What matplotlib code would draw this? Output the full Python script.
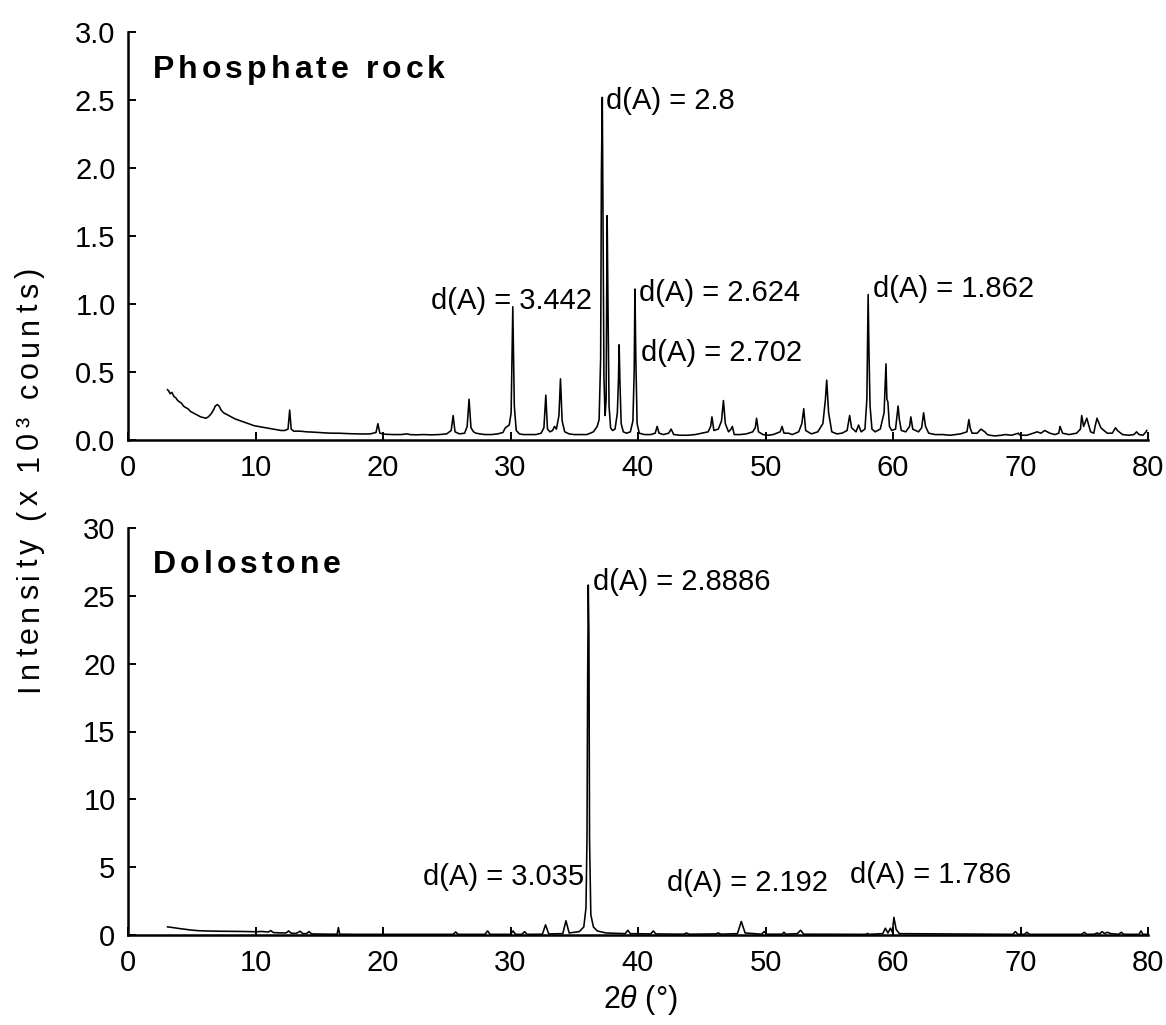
import matplotlib
matplotlib.use("Agg")
import matplotlib.pyplot as plt
from matplotlib.transforms import offset_copy

plt.rcParams['font.family'] = ['Liberation Sans', 'DejaVu Sans']
plt.rcParams['mathtext.fontset'] = 'custom'
plt.rcParams['mathtext.rm'] = 'Liberation Sans'
plt.rcParams['mathtext.it'] = 'Liberation Sans:italic'

# ---- Phosphate rock diffractogram (2theta in degrees, intensity in 10^3 counts)
phos_2theta = [
    3.1, 3.2, 3.3, 3.45, 3.6, 3.75, 3.9, 4.05, 4.2, 4.35, 4.5, 4.7, 4.9, 5.1, 5.3,
    5.5, 5.7, 5.9, 6.1, 6.3, 6.5, 6.7, 6.85, 7.0, 7.15, 7.3, 7.5, 7.7, 7.9, 8.1,
    8.4, 8.7, 9.0, 9.3, 9.6, 9.9, 10.2, 10.5, 10.8, 11.1, 11.4, 11.7, 12.0, 12.3,
    12.55, 12.68, 12.8, 13.0, 13.5, 14.0, 14.5, 15.0, 15.5, 16.0, 16.5, 17.0, 17.5,
    18.0, 18.5, 19.0, 19.45, 19.6, 19.75, 20.2, 20.8, 21.4, 21.9, 22.1, 22.6, 23.2,
    23.8, 24.4, 25.0, 25.35, 25.5, 25.65, 26.0, 26.4, 26.6, 26.75, 26.9, 27.1, 27.3,
    27.6, 28.0, 28.5, 29.0, 29.4, 29.6, 29.9, 30.05, 30.18, 30.3, 30.45, 30.7, 31.0,
    31.5, 32.0, 32.4, 32.62, 32.77, 32.9, 33.1, 33.3, 33.45, 33.6, 33.8, 33.92, 34.05,
    34.25, 34.6, 35.0, 35.5, 36.0, 36.5, 36.8, 36.95, 37.07, 37.13, 37.2, 37.26,
    37.33, 37.42, 37.5, 37.58, 37.65, 37.73, 37.85, 38.0, 38.2, 38.38, 38.47, 38.52,
    38.58, 38.68, 38.85, 39.1, 39.4, 39.6, 39.7, 39.76, 39.83, 39.93, 40.1, 40.5,
    41.0, 41.35, 41.5, 41.65, 42.0, 42.4, 42.6, 42.8, 43.3, 43.9, 44.5, 45.0, 45.5,
    45.7, 45.8, 45.95, 46.3, 46.55, 46.7, 46.85, 47.1, 47.3, 47.4, 47.55, 48.0, 48.5,
    49.0, 49.2, 49.3, 49.45, 49.8, 50.2, 50.6, 51.15, 51.3, 51.45, 51.8, 52.1, 52.6,
    52.85, 53.0, 53.15, 53.6, 54.1, 54.5, 54.7, 54.8, 54.95, 55.2, 55.6, 56.0, 56.4,
    56.6, 56.75, 57.1, 57.3, 57.5, 57.8, 57.95, 58.05, 58.12, 58.2, 58.35, 58.6, 59.0,
    59.3, 59.45, 59.52, 59.6, 59.72, 59.9, 60.2, 60.4, 60.5, 60.65, 61.0, 61.3, 61.4,
    61.55, 62.0, 62.25, 62.4, 62.55, 62.8, 63.3, 63.9, 64.5, 64.9, 65.3, 65.8, 65.95,
    66.05, 66.2, 66.6, 66.9, 67.2, 67.4, 67.6, 68.0, 68.5, 68.8, 69.3, 69.85, 69.9,
    70.0, 70.5, 71.0, 71.3, 71.6, 71.9, 72.3, 72.7, 73.0, 73.1, 73.3, 73.8, 74.4,
    74.7, 74.8, 74.95, 75.2, 75.5, 75.75, 75.85, 76.0, 76.3, 76.8, 77.2, 77.45,
    77.6, 78.0, 78.5, 78.9, 79.1, 79.3, 79.6, 79.85, 79.9,
]
phos_counts = [
    0.37, 0.36, 0.34, 0.35, 0.32, 0.31, 0.29, 0.28, 0.27, 0.25, 0.24, 0.23, 0.21, 0.2, 0.19,
    0.18, 0.17, 0.165, 0.16, 0.17, 0.19, 0.22, 0.25, 0.26, 0.25, 0.22, 0.2, 0.19, 0.18, 0.17,
    0.155, 0.145, 0.135, 0.125, 0.115, 0.105, 0.1, 0.095, 0.09, 0.085, 0.08, 0.075, 0.07, 0.07,
    0.08, 0.22, 0.08, 0.065, 0.065, 0.06, 0.058, 0.055, 0.052, 0.05, 0.05, 0.048, 0.046,
    0.045, 0.044, 0.045, 0.055, 0.12, 0.05, 0.042, 0.04, 0.04, 0.045, 0.04, 0.038, 0.04,
    0.038, 0.04, 0.045, 0.07, 0.18, 0.06, 0.045, 0.05, 0.1, 0.3, 0.09, 0.06, 0.05,
    0.045, 0.04, 0.04, 0.045, 0.055, 0.09, 0.11, 0.2, 0.98, 0.25, 0.07, 0.045, 0.04,
    0.04, 0.04, 0.05, 0.09, 0.33, 0.08, 0.06, 0.07, 0.1, 0.08, 0.18, 0.45, 0.14,
    0.06, 0.045, 0.04, 0.04, 0.04, 0.06, 0.1, 0.15, 0.6, 1.97, 2.52, 1.55,
    0.45, 0.18, 0.3, 1.65, 0.95, 0.25, 0.09, 0.07, 0.08, 0.2, 0.45, 0.7,
    0.44, 0.12, 0.06, 0.05, 0.06, 0.14, 0.5, 1.11, 0.6, 0.12, 0.05, 0.04,
    0.04, 0.05, 0.1, 0.05, 0.04, 0.05, 0.08, 0.04, 0.035, 0.035, 0.04, 0.05, 0.06,
    0.1, 0.17, 0.07, 0.08, 0.14, 0.29, 0.12, 0.06, 0.08, 0.1, 0.04, 0.04, 0.045,
    0.06, 0.09, 0.16, 0.06, 0.04, 0.035, 0.04, 0.06, 0.1, 0.05, 0.05, 0.04, 0.06,
    0.12, 0.23, 0.07, 0.045, 0.06, 0.12, 0.3, 0.44, 0.2, 0.06, 0.045, 0.05, 0.07,
    0.18, 0.09, 0.06, 0.11, 0.06, 0.08, 0.3, 1.07, 0.62, 0.25, 0.08, 0.06, 0.08,
    0.2, 0.56, 0.3, 0.28, 0.1, 0.07, 0.08, 0.25, 0.15, 0.07, 0.06, 0.1, 0.17,
    0.08, 0.06, 0.09, 0.2, 0.1, 0.05, 0.04, 0.04, 0.035, 0.04, 0.045, 0.06, 0.15,
    0.09, 0.05, 0.05, 0.08, 0.06, 0.04, 0.035, 0.03, 0.035, 0.04, 0.035, 0.05, 0.04,
    0.035, 0.035, 0.05, 0.06, 0.05, 0.07, 0.05, 0.04, 0.05, 0.1, 0.05, 0.04, 0.05,
    0.08, 0.18, 0.1, 0.16, 0.06, 0.05, 0.1, 0.16, 0.09, 0.05, 0.05, 0.09,
    0.07, 0.04, 0.035, 0.04, 0.06, 0.04, 0.035, 0.06, 0.07,
]

# ---- Dolostone diffractogram
dolo_2theta = [
    3.1, 3.5, 4.0, 4.5, 5.0, 5.5, 6.0, 7.0, 8.0, 9.0, 10.0, 10.5, 11.0, 11.2, 11.4,
    11.8, 12.4, 12.6, 12.8, 13.2, 13.5, 13.7, 14.0, 14.2, 14.4, 15.0, 16.0, 16.4,
    16.5, 16.6, 18.0, 20.0, 22.0, 25.5, 25.7, 25.9, 28.0, 28.2, 28.4, 30.0, 30.2,
    30.4, 30.9, 31.1, 31.3, 32.5, 32.75, 33.0, 34.1, 34.35, 34.6, 35.4, 35.75, 35.92,
    36.0, 36.05, 36.1, 36.15, 36.2, 36.3, 36.5, 36.8, 37.5, 39.0, 39.2, 39.4, 41.0,
    41.2, 41.4, 43.6, 43.8, 44.0, 46.1, 46.3, 46.5, 47.8, 48.1, 48.4, 49.7, 49.9,
    50.1, 51.3, 51.45, 51.6, 52.5, 52.75, 53.0, 57.9, 58.0, 58.1, 59.2, 59.4, 59.6,
    59.8, 59.95, 60.07, 60.25, 60.5, 69.4, 69.6, 69.8, 70.3, 70.5, 70.7, 74.8, 75.0,
    75.2, 75.8, 76.0, 76.2, 76.4, 76.6, 76.8, 77.1, 77.7, 77.9, 78.1, 79.3, 79.45,
    79.6, 79.9,
]
dolo_counts = [
    0.6, 0.55, 0.48, 0.42, 0.36, 0.32, 0.3, 0.28, 0.27, 0.26, 0.24, 0.26, 0.22, 0.32,
    0.18, 0.16, 0.15, 0.3, 0.13, 0.12, 0.28, 0.1, 0.1, 0.25, 0.08, 0.07, 0.06, 0.06,
    0.55, 0.06, 0.05, 0.05, 0.05, 0.05, 0.22, 0.05, 0.05, 0.3, 0.05, 0.05, 0.3,
    0.05, 0.05, 0.25, 0.05, 0.06, 0.75, 0.08, 0.1, 1.05, 0.15, 0.25, 0.6, 2.0,
    7.2, 18.7, 25.8, 22.2, 7.0, 1.5, 0.6, 0.3, 0.15, 0.1, 0.35, 0.1, 0.08,
    0.3, 0.08, 0.06, 0.15, 0.06, 0.08, 0.15, 0.06, 0.1, 1.0, 0.15, 0.06, 0.25,
    0.06, 0.06, 0.2, 0.06, 0.1, 0.35, 0.06, 0.05, 0.12, 0.05, 0.1, 0.5, 0.15,
    0.5, 0.2, 1.3, 0.4, 0.1, 0.05, 0.25, 0.05, 0.05, 0.2, 0.05, 0.05, 0.2,
    0.05, 0.06, 0.15, 0.08, 0.25, 0.1, 0.2, 0.1, 0.05, 0.2, 0.05, 0.05, 0.3,
    0.05, 0.05,
]

# ---- Peak labels: (2theta, intensity, text, horizontal alignment)
phos_labels = [
    (37.5, 2.49, "d(A) = 2.8", "left"),
    (36.4, 1.02, "d(A) = 3.442", "right"),
    (40.1, 1.08, "d(A) = 2.624", "left"),
    (40.2, 0.64, "d(A) = 2.702", "left"),
    (58.4, 1.11, "d(A) = 1.862", "left"),
]
dolo_labels = [
    (36.45, 26.0, "d(A) = 2.8886", "left"),
    (35.8, 4.3, "d(A) = 3.035", "right"),
    (42.3, 3.8, "d(A) = 2.192", "left"),
    (56.6, 4.4, "d(A) = 1.786", "left"),
]

x_ticks = [0, 10, 20, 30, 40, 50, 60, 70, 80]
phos_yticks = [0.0, 0.5, 1.0, 1.5, 2.0, 2.5, 3.0]
dolo_yticks = [0, 5, 10, 15, 20, 25, 30]

FS = 21
W, H = 1166, 1025
fig = plt.figure(figsize=(W / 100, H / 100), dpi=100)
ax1 = fig.add_axes([128 / W, 1 - 440 / H, 1020 / W, 408 / H])
ax2 = fig.add_axes([128 / W, 1 - 935 / H, 1020 / W, 407 / H])
renderer = fig.canvas.get_renderer()


def style(ax, yticks, fmt):
    for s in ("top", "right"):
        ax.spines[s].set_visible(False)
    for s in ("left", "bottom"):
        ax.spines[s].set_linewidth(1.8)
    ax.set_xlim(0, 80)
    ax.set_ylim(yticks[0], yticks[-1])
    ax.set_xticks(x_ticks)
    ax.set_yticks(yticks)
    ax.set_yticklabels([fmt.format(v) for v in yticks])
    ax.tick_params(direction="in", length=6, width=1.4, labelsize=FS, pad=9)
    ax.tick_params(axis="x", pad=10)


def tracked_text(x, y, s, transform, extra_px, size, weight="normal",
                 vertical=False, centered=False):
    """Text drawn glyph by glyph with widened letter spacing."""
    probe = fig.text(0, 0, "x", fontsize=size, fontweight=weight)
    prop = probe.get_fontproperties()
    probe.remove()

    def width(t):
        return renderer.get_text_width_height_descent(t, prop, ismath=False)[0]

    ref_w = width("x")
    offsets = [width(s[:i] + "x") - ref_w + i * extra_px for i in range(len(s))]
    start = -(width(s) + (len(s) - 1) * extra_px) / 2 if centered else 0.0
    for ch, off in zip(s, offsets):
        d = (start + off) * 72 / fig.dpi
        tr = offset_copy(transform, fig=fig, x=0 if vertical else d,
                         y=d if vertical else 0, units="points")
        fig.text(x, y, ch, transform=tr, fontsize=size, fontweight=weight,
                 ha="left", va="center", rotation=90 if vertical else 0,
                 rotation_mode="anchor")


ax1.plot(phos_2theta, phos_counts, color="black", lw=1.15)
style(ax1, phos_yticks, "{:.1f}")
for x, y, txt, ha in phos_labels:
    ax1.text(x, y, txt, fontsize=FS, ha=ha, va="center")
tracked_text(1.95, 2.72, "Phosphate rock", ax1.transData, 4.0, 23, "bold")

ax2.plot(dolo_2theta, dolo_counts, color="black", lw=1.15)
style(ax2, dolo_yticks, "{:d}")
for x, y, txt, ha in dolo_labels:
    ax2.text(x, y, txt, fontsize=FS, ha=ha, va="center")
tracked_text(1.95, 27.3, "Dolostone", ax2.transData, 4.0, 23, "bold")

tracked_text(30 / W, 1 - 480 / H, "Intensity (x 10³ counts)", fig.transFigure,
             5.0, 22, vertical=True, centered=True)
fig.text(640 / W, 1 - 1000 / H, r"2$\mathit{\theta}$ (°)", ha="center",
         va="center", fontsize=FS + 1)

fig.savefig("out.png", dpi=100)
